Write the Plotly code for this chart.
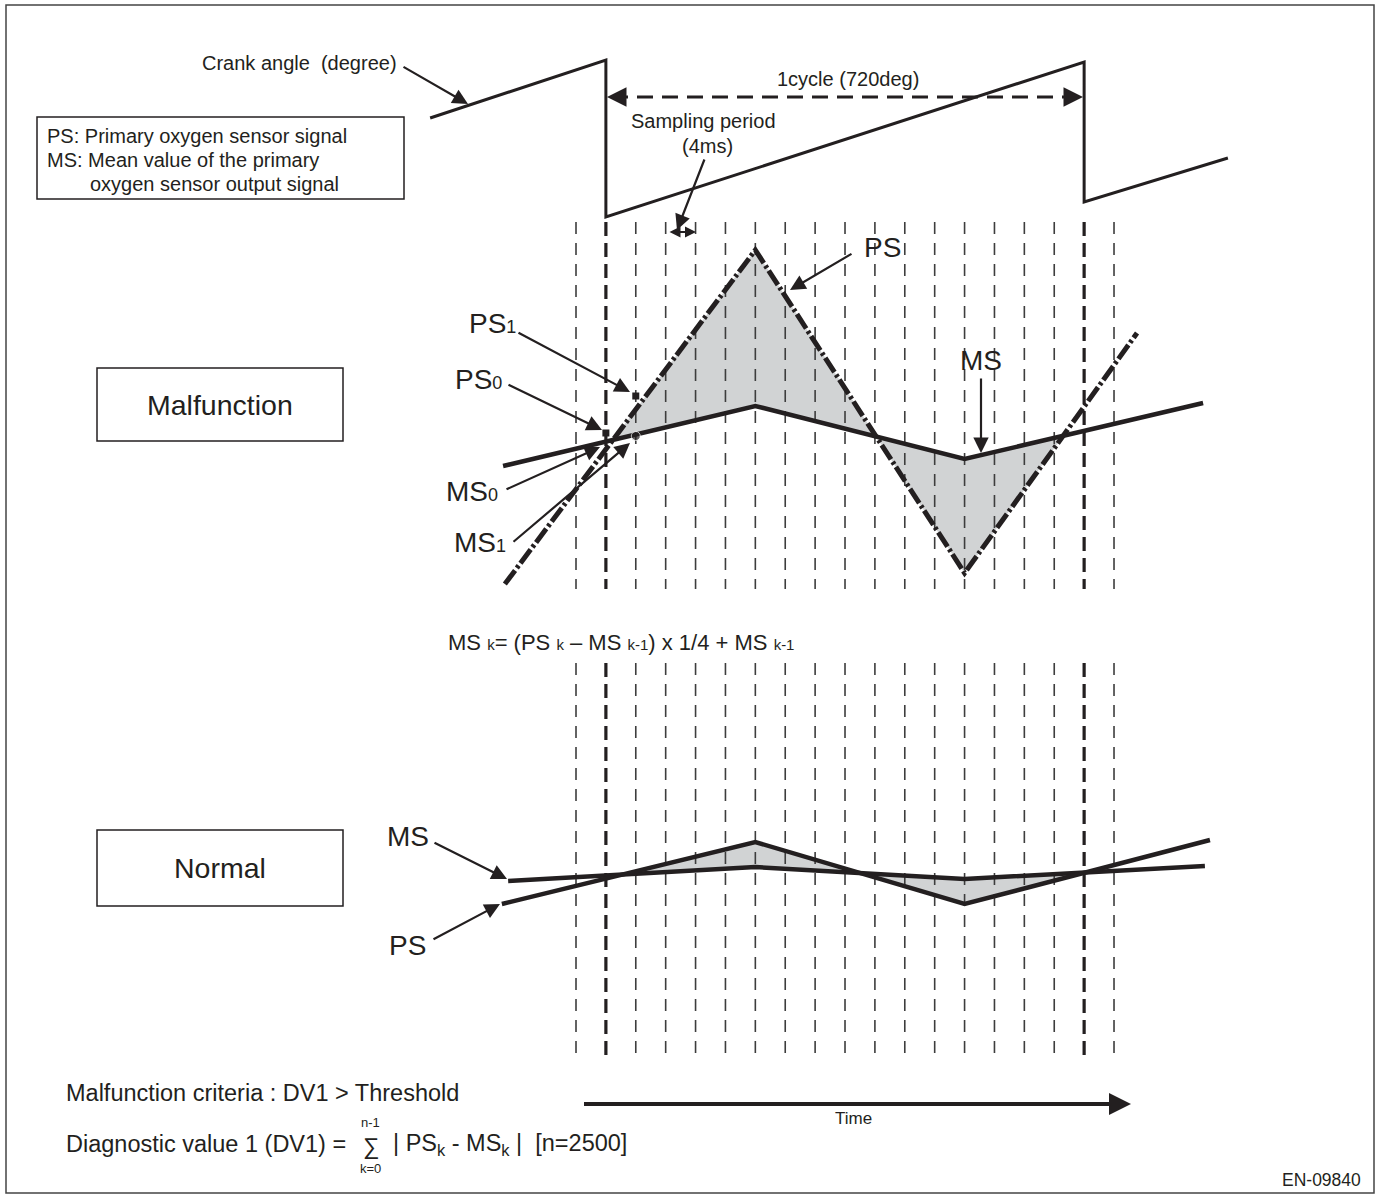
import numpy as np
import plotly.graph_objects as go

# ---------------- data ----------------
W, H = 1380, 1200
X0, DX = 576.0, 29.89          # pixel of sampling line k=0 and spacing (layout only)

SAMPLE_K = list(range(19))      # sampling instants k = 0..18
CYCLE_K = [1, 17]               # cycle boundaries (720 deg)

CRANK_K = [-4.88, 1, 1, 17, 17, 21.81]
CRANK_Y = [118, 60, 217, 62, 202, 158]

MAL_PS_K = [-2.38, 6, 13, 18.77]
MAL_PS_Y = [584, 250, 573, 333]
MAL_MS_K = [-2.44, 6, 13, 20.98]
MAL_MS_Y = [466, 406, 459, 403]

NOR_PS_K = [-2.48, 6, 13, 21.21]
NOR_PS_Y = [904, 842, 904, 840]
NOR_MS_K = [-2.27, 6, 13, 21.04]
NOR_MS_Y = [881, 867, 879, 866]

PS_MARK_K = [1, 2]
PS_MARK_Y = [433, 396]
MS_MARK_K = [1, 2]
MS_MARK_Y = [441, 436]

INK = "#231f20"
GRAY_FILL = "#d1d3d4"
FONT = "Liberation Sans, Arial, Helvetica, sans-serif"


def kx(p):
    return (p - X0) / DX


fig = go.Figure()


def fill_between(k1, y1, k2, y2):
    lo, hi = max(k1[0], k2[0]), min(k1[-1], k2[-1])
    g = np.linspace(lo, hi, 4000)
    a = np.interp(g, k1, y1)
    b = np.interp(g, k2, y2)
    d = a - b
    idx = np.where(np.sign(d[:-1]) != np.sign(d[1:]))[0]
    s, e = idx[0] + 1, idx[-1] + 1
    gx = g[s:e]
    xs = list(gx) + list(gx[::-1])
    ys = list(a[s:e]) + list(b[s:e][::-1])
    fig.add_trace(go.Scatter(x=xs, y=ys, mode="lines", fill="toself",
                             fillcolor=GRAY_FILL, line=dict(width=0),
                             hoverinfo="skip"))


fill_between(MAL_PS_K, MAL_PS_Y, MAL_MS_K, MAL_MS_Y)
fill_between(NOR_PS_K, NOR_PS_Y, NOR_MS_K, NOR_MS_Y)

# sampling dashed lines
for k in SAMPLE_K:
    thick = k in CYCLE_K
    for (ya, yb) in [(222, 589), (663, 1056)]:
        fig.add_trace(go.Scatter(
            x=[k, k], y=[ya, yb], mode="lines",
            line=dict(color=INK if thick else "#3d3d3d",
                      width=3.2 if thick else 1.6,
                      dash="14px,7px" if thick else "12px,9px"),
            hoverinfo="skip"))

# crank angle saw-tooth
fig.add_trace(go.Scatter(x=CRANK_K, y=CRANK_Y, mode="lines",
                         line=dict(color=INK, width=3)))

# 1 cycle dashed arrow line
fig.add_trace(go.Scatter(x=[kx(612), kx(1078)], y=[97, 97], mode="lines",
                         line=dict(color=INK, width=3, dash="16px,9px")))

# malfunction signals
fig.add_trace(go.Scatter(x=MAL_MS_K, y=MAL_MS_Y, mode="lines",
                         line=dict(color=INK, width=4.5)))
fig.add_trace(go.Scatter(x=MAL_PS_K, y=MAL_PS_Y, mode="lines",
                         line=dict(color=INK, width=5, dash="17px,3px,3px,3px")))
fig.add_trace(go.Scatter(x=PS_MARK_K, y=PS_MARK_Y, mode="markers",
                         marker=dict(symbol="square", size=7, color=INK)))
fig.add_trace(go.Scatter(x=MS_MARK_K, y=MS_MARK_Y, mode="markers",
                         marker=dict(symbol="circle", size=[0, 9], color=INK)))

# normal signals
fig.add_trace(go.Scatter(x=NOR_MS_K, y=NOR_MS_Y, mode="lines",
                         line=dict(color=INK, width=4.5)))
fig.add_trace(go.Scatter(x=NOR_PS_K, y=NOR_PS_Y, mode="lines",
                         line=dict(color=INK, width=4.5)))

# time axis arrow line
fig.add_trace(go.Scatter(x=[kx(584), kx(1118)], y=[1104, 1104], mode="lines",
                         line=dict(color=INK, width=4)))

ann = []


def txt(s, px, py, size, xanchor="left", yanchor="middle"):
    ann.append(dict(x=kx(px), y=py, xref="x", yref="y", text=s, showarrow=False,
                    xanchor=xanchor, yanchor=yanchor,
                    font=dict(size=size, color=INK, family=FONT)))


def arrow(tail, tip, width=2.2, size=1.4, head=2, side="end"):
    ann.append(dict(x=kx(tip[0]), y=tip[1], ax=kx(tail[0]), ay=tail[1],
                    xref="x", yref="y", axref="x", ayref="y", text="",
                    showarrow=True, arrowhead=head, arrowsize=size,
                    arrowwidth=width, arrowcolor=INK, arrowside=side, standoff=0))


def sm(s, size):
    return "<span style='font-size:%dpx'>%s</span>" % (size, s)


# top texts
txt("Crank angle  (degree)", 399, 63, 20, xanchor="right")
arrow((402, 66), (468, 104))
txt("PS: Primary oxygen sensor signal", 45, 136, 20)
txt("MS: Mean value of the primary", 45, 160, 20)
txt("oxygen sensor output signal", 88, 184, 20)
txt("1cycle (720deg)", 775, 79, 20)
arrow((622, 97), (607, 97), width=3, size=1.3)
arrow((1068, 97), (1083, 97), width=3, size=1.3)
txt("Sampling period", 703, 121, 20, xanchor="center")
txt("(4ms)", 707, 146, 20, xanchor="center")
arrow((705, 158), (677, 230))
arrow((668, 232), (696, 232), width=2, size=1.1, side="end+start")

# malfunction labels
txt("Malfunction", 220, 405, 28.5, xanchor="center")
txt("PS", 862, 247, 28)
arrow((853, 253), (790, 290))
txt("MS", 958, 360, 28)
arrow((981, 377), (981, 453))
txt("PS" + sm("1", 18), 467, 323, 28)
arrow((517, 332), (630, 392))
txt("PS" + sm("0", 18), 453, 379, 28)
arrow((507, 384), (602, 430))
txt("MS" + sm("0", 18), 444, 491, 28)
arrow((505, 490), (600, 447))
txt("MS" + sm("1", 18), 452, 542, 28)
arrow((512, 543), (630, 443))

# formula
txt("MS " + sm("k", 15) + "= (PS " + sm("k", 15) + " \u2013 MS " + sm("k-1", 15)
    + ") x 1/4 + MS " + sm("k-1", 15), 796, 642, 22, xanchor="right")

# normal labels
txt("Normal", 220, 868, 28.5, xanchor="center")
txt("MS", 385, 836, 28)
arrow((433, 842), (507, 879))
txt("PS", 387, 945, 28)
arrow((432, 940), (500, 904))

# bottom
arrow((1110, 1104), (1131, 1104), width=4, size=1.1)
txt("Time", 853, 1118, 17, xanchor="center")
txt("Malfunction criteria : DV1 > Threshold", 64, 1093, 23.5)
txt("Diagnostic value 1 (DV1) =", 64, 1144, 23.5)
txt("\u2211", 371, 1146, 23, xanchor="center")
txt("n-1", 370, 1122, 13, xanchor="center")
txt("k=0", 370, 1168, 13, xanchor="center")
txt("| PS<sub>k</sub> - MS<sub>k</sub> |  [n=2500]", 629, 1144, 23.5, xanchor="right")
txt("EN-09840", 1363, 1180, 17.5, xanchor="right")

shapes = [
    dict(type="rect", xref="x", yref="y", x0=kx(6), x1=kx(1374), y0=5, y1=1193,
         line=dict(color="#444444", width=1.5)),
    dict(type="rect", xref="x", yref="y", x0=kx(37), x1=kx(404), y0=117, y1=199,
         line=dict(color=INK, width=1.5)),
    dict(type="rect", xref="x", yref="y", x0=kx(97), x1=kx(343), y0=368, y1=441,
         line=dict(color=INK, width=1.5)),
    dict(type="rect", xref="x", yref="y", x0=kx(97), x1=kx(343), y0=830, y1=906,
         line=dict(color=INK, width=1.5)),
]

fig.update_layout(
    width=W, height=H, margin=dict(l=0, r=0, t=0, b=0),
    paper_bgcolor="white", plot_bgcolor="white", showlegend=False,
    xaxis=dict(range=[kx(0), kx(W)], visible=False, fixedrange=True),
    yaxis=dict(range=[H, 0], visible=False, fixedrange=True),
    annotations=ann, shapes=shapes,
)

fig.write_html("out.html", config={"displayModeBar": False},
               post_script="document.body.style.margin='0';")
